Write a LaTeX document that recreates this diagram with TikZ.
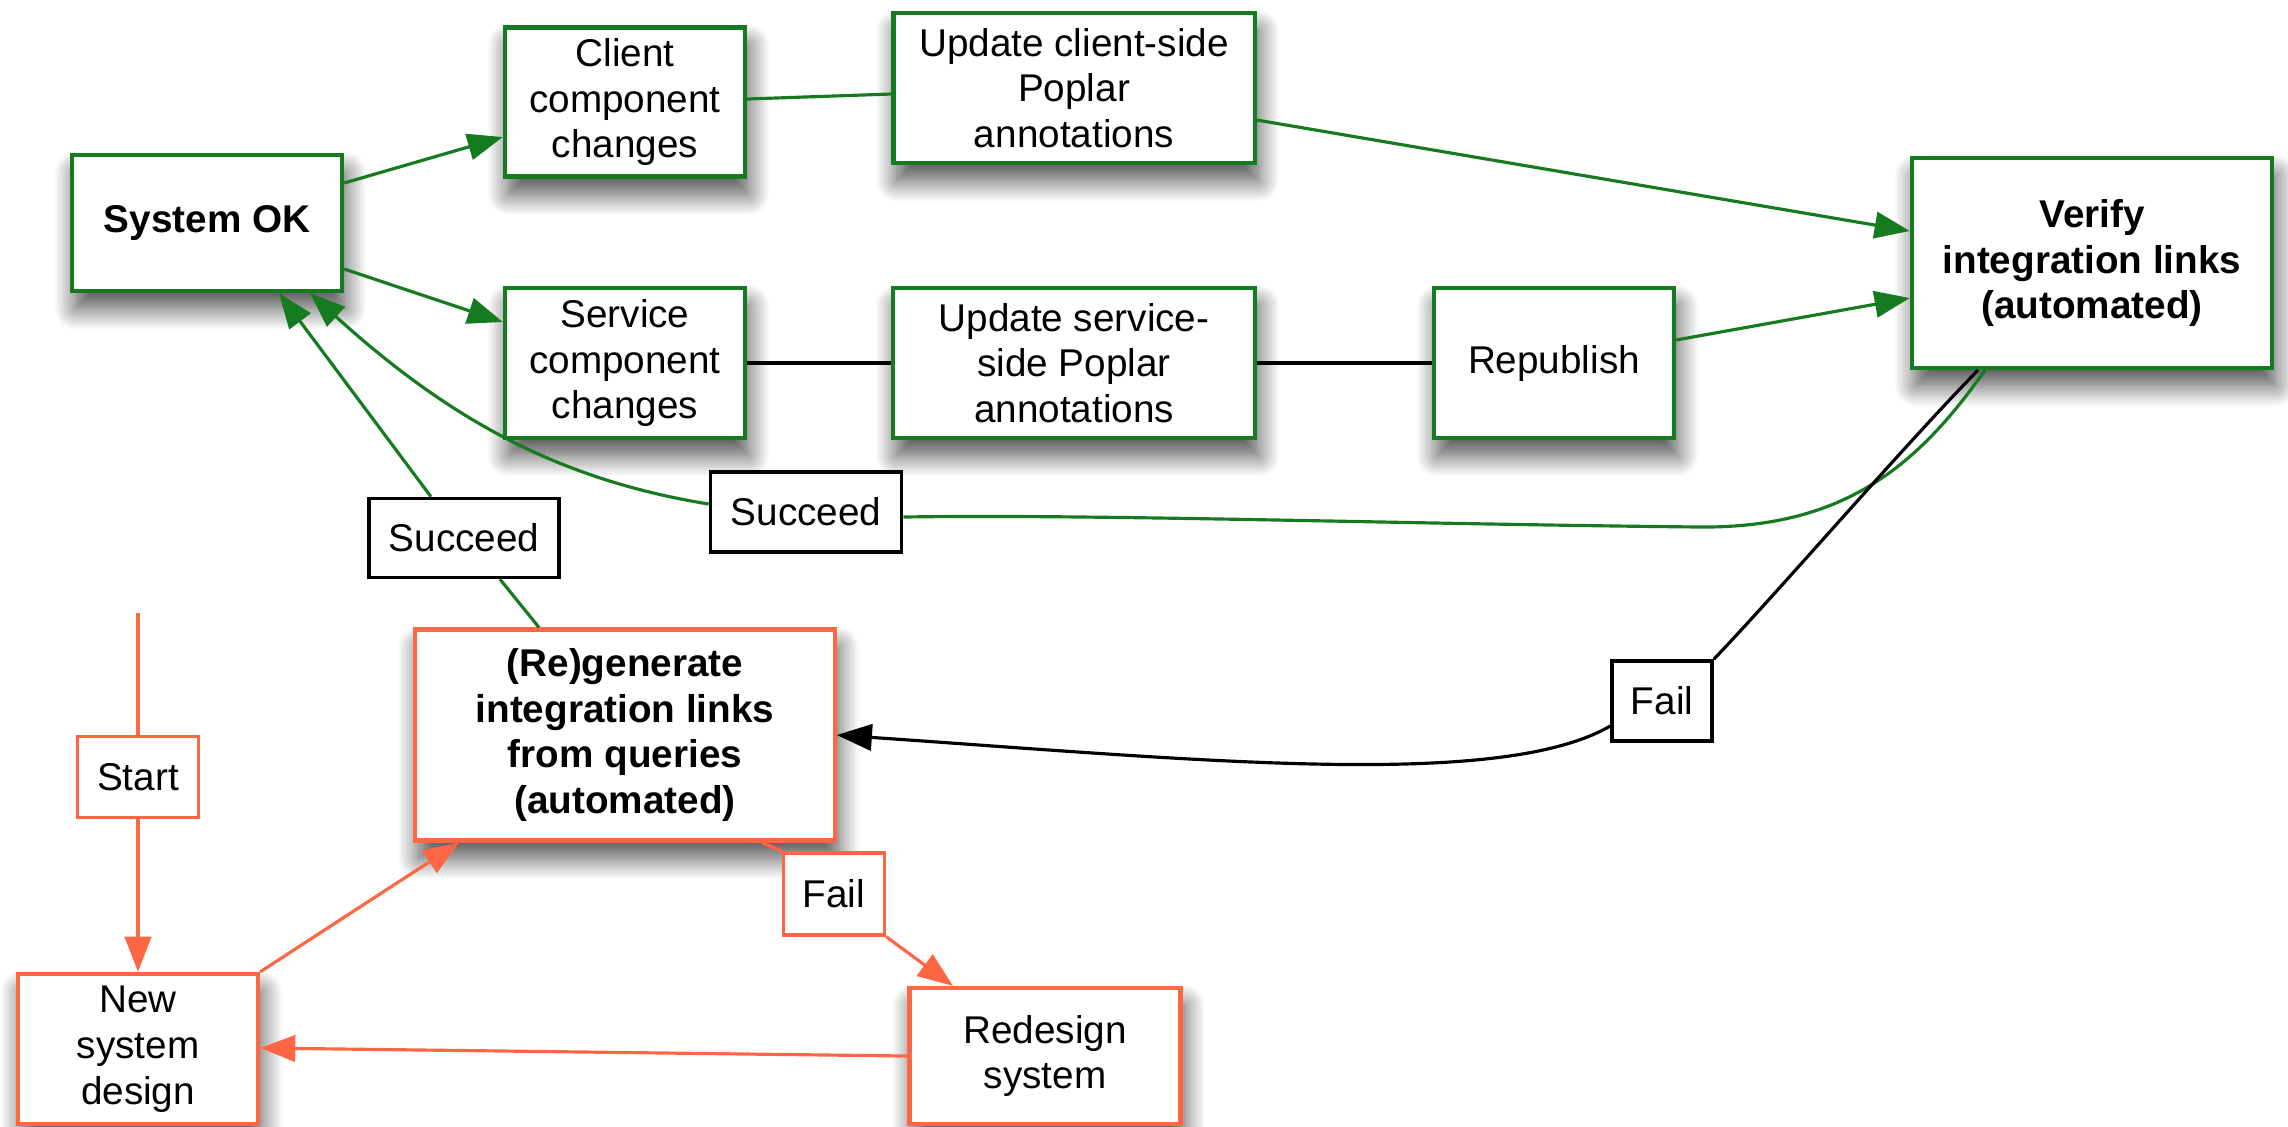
\documentclass[tikz,border=0pt]{standalone}
\usepackage{fontspec}
\setmainfont{Liberation Sans}
\usetikzlibrary{arrows.meta,shadows.blur}
\definecolor{okgreen}{RGB}{22,122,32}
\definecolor{redo}{RGB}{255,102,68}

\begin{document}
\begin{tikzpicture}[x=0.01cm, y=-0.01cm,
		every node/.style={font=\fontsize{11}{13}\selectfont, align=center, inner sep=0pt},
		flowbox/.style={draw=#1, line width=1.2pt, fill=white,
			blur shadow={shadow xshift=1pt, shadow yshift=-5pt, shadow blur radius=6pt, shadow blur steps=20, shadow opacity=70}},
		tagbox/.style={draw=#1, line width=1pt, fill=white},
		plainline/.style={draw=#1, line width=0.9pt},
		flow/.style={draw=#1, line width=0.9pt, -{Triangle[length=10pt, width=7.5pt]}}]
		\useasboundingbox (0,0) rectangle (2288,1126);

		\node[flowbox=okgreen, minimum width=2.70cm, minimum height=1.36cm, font=\fontsize{11}{13}\selectfont\bfseries] (sysok) at (207,223) {System OK};
		\node[flowbox=okgreen, minimum width=2.40cm, minimum height=1.49cm] (client) at (625,102) {Client\\component\\changes};
		\node[flowbox=okgreen, minimum width=3.61cm, minimum height=1.50cm] (updclient) at (1074,88) {Update client-side\\Poplar\\annotations};
		\node[flowbox=okgreen, minimum width=3.60cm, minimum height=2.10cm, font=\fontsize{11}{13}\selectfont\bfseries] (verify) at (2092,263) {Verify\\integration links\\(automated)};
		\node[flowbox=okgreen, minimum width=2.40cm, minimum height=1.50cm] (service) at (625,363) {Service\\component\\changes};
		\node[flowbox=okgreen, minimum width=3.62cm, minimum height=1.50cm] (updservice) at (1074,363) {Update service-\\side Poplar\\annotations};
		\node[flowbox=okgreen, minimum width=2.40cm, minimum height=1.50cm] (republish) at (1554,363) {Republish};

		\node[flowbox=redo, minimum width=4.19cm, minimum height=2.11cm, font=\fontsize{11}{13}\selectfont\bfseries] (regen) at (625,735) {(Re)generate\\integration links\\from queries\\(automated)};
		\node[flowbox=redo, minimum width=2.40cm, minimum height=1.50cm] (newsys) at (138,1049) {New\\system\\design};
		\node[flowbox=redo, minimum width=2.71cm, minimum height=1.36cm] (redesign) at (1045,1056) {Redesign\\system};

		\node[tagbox=black, minimum width=1.91cm, minimum height=0.80cm] (okmid) at (806,512) {Succeed};
		\node[tagbox=black, minimum width=1.90cm, minimum height=0.79cm] (okleft) at (464,538) {Succeed};
		\node[tagbox=black, minimum width=1.00cm, minimum height=0.80cm] (failright) at (1662,701) {Fail};
		\node[tagbox=redo, minimum width=1.21cm, minimum height=0.81cm] (start) at (138,777) {Start};
		\node[tagbox=redo, minimum width=1.01cm, minimum height=0.82cm] (faillow) at (834,894) {Fail};
		\coordinate (entry) at (138,613);

		\draw[flow=okgreen] ([yshift=0.40cm]sysok.east) -- ([yshift=-0.35cm]client.west);
		\draw[flow=okgreen] ([yshift=-0.46cm]sysok.east) -- ([yshift=0.41cm]service.west);
		\draw[plainline=okgreen] ([yshift=0.03cm]client.east) -- ([yshift=-0.06cm]updclient.west);
		\draw[flow=okgreen] ([yshift=-0.32cm]updclient.east) -- ([yshift=0.32cm]verify.west);
		\draw[plainline=black] (service.east) -- (updservice.west);
		\draw[plainline=black] (updservice.east) -- (republish.west);
		\draw[flow=okgreen] ([yshift=0.23cm]republish.east) -- ([yshift=-0.35cm]verify.west);

		\draw[plainline=okgreen] ([xshift=-1.07cm]verify.south) .. controls (1915,470) and (1840,528) .. (1700,527) .. controls (1400,524) and (1100,514) .. ([yshift=-0.05cm]okmid.east);
		\draw[flow=okgreen] ([yshift=0.08cm]okmid.west) .. controls (560,480) and (450,420) .. ([xshift=1.03cm]sysok.south);
		\draw[plainline=okgreen] ([xshift=-0.86cm]regen.north) -- ([xshift=0.36cm]okleft.south);
		\draw[flow=okgreen] ([xshift=-0.33cm]okleft.north) -- ([xshift=0.72cm]sysok.south);

		\draw[plainline=black] ([xshift=-1.14cm]verify.south) .. controls (1900,450) and (1780,590) .. (failright.north east);
		\draw[flow=black] ([yshift=-0.25cm]failright.west) .. controls (1500,790) and (1200,760) .. (regen.east);

		\draw[plainline=redo] (entry) -- (start.north);
		\draw[flow=redo] (start.south) -- (newsys.north);
		\draw[flow=redo] (newsys.north east) -- ([xshift=-1.66cm]regen.south);
		\draw[plainline=redo] ([xshift=1.37cm]regen.south) -- (faillow.north west);
		\draw[flow=redo] (faillow.south east) -- ([xshift=-0.92cm]redesign.north);
		\draw[flow=redo] (redesign.west) -- ([yshift=0.01cm]newsys.east);
	\end{tikzpicture}
\end{document}
